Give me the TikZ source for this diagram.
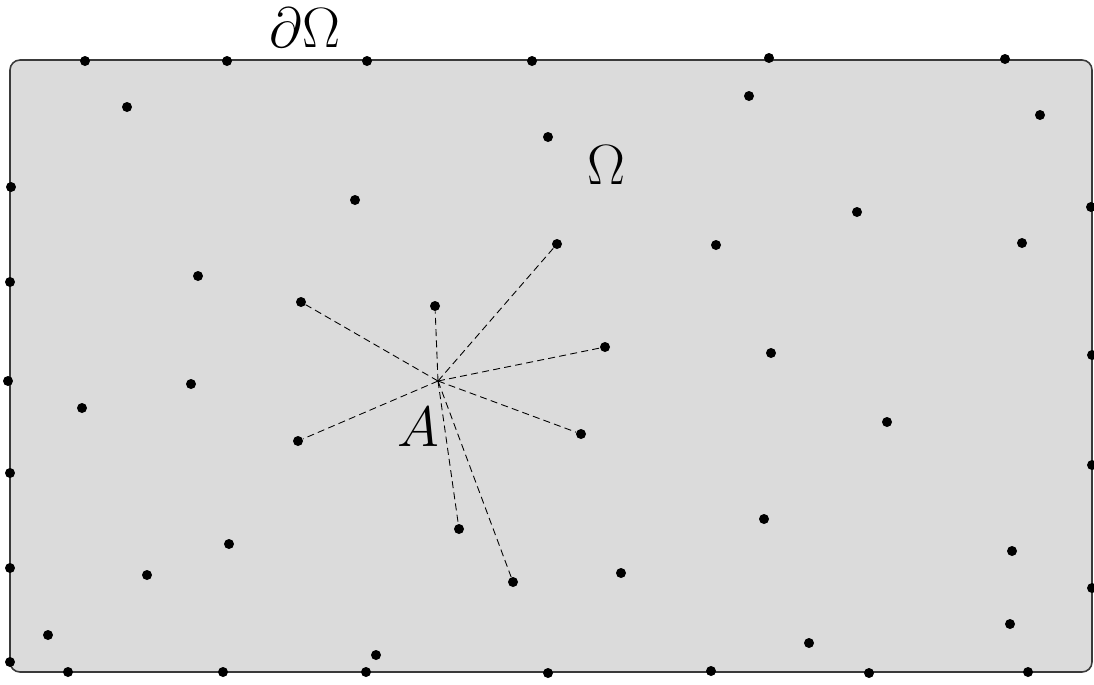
\documentclass[tikz,border=0pt]{standalone}
\usepackage{amsmath}
\usepackage{amssymb}
\usepackage{xcolor}
\usepackage{tikz}
\usetikzlibrary{positioning}
\definecolor{domfill}{HTML}{DBDBDB}
\definecolor{domedge}{HTML}{3A3A3A}

\tikzset{
  dot/.style={circle, fill=black, inner sep=0pt, minimum size=0.2cm},
  ray/.style={line width=0.5pt, dash pattern=on 4pt off 2.4pt},
  lbl/.style={font=\fontsize{25}{25}\selectfont, inner sep=0pt, scale=1.3}
}

\begin{document}
\begin{tikzpicture}[x=0.02cm, y=-0.02cm]
  \useasboundingbox (0,0) rectangle (1094,684);

  % the domain
  \path[fill=domfill, draw=domedge, line width=0.9pt, rounded corners=0.2cm]
    (10,60) rectangle (1092,672);

  % points on the boundary
  \foreach \n/\x/\y in {b1/85/61, b2/227/61, b3/367/61, b4/532/61, b5/769/58, b6/1005/59,
      b7/11/187, b8/10/282, b9/8/381, b10/10/473, b11/10/568, b12/10/662,
      b13/68/672, b14/223/672, b15/366/672, b16/548/673, b17/711/671, b18/869/673, b19/1028/672,
      b20/1091/207, b21/1092/355, b22/1092/465, b23/1092/588}
    \node[dot] (\n) at (\x,\y) {};

  % points inside
  \foreach \n/\x/\y in {q1/127/107, q2/749/96, q3/1040/115, q4/548/137, q5/355/200,
      q6/857/212, q7/716/245, q8/1022/243, q9/557/244, q10/198/276, q11/301/302,
      q12/435/306, q13/605/347, q14/771/353, q15/191/384, q16/82/408, q17/581/434,
      q18/298/441, q19/887/422, q20/764/519, q21/459/529, q22/229/544, q23/147/575,
      q24/513/582, q25/621/573, q26/1012/551, q27/48/635, q28/376/655, q29/809/643,
      q30/1010/624}
    \node[dot] (\n) at (\x,\y) {};

  % neighbours of A
  \coordinate (A) at (438,381);
  \foreach \n in {q11,q12,q9,q13,q17,q21,q24,q18}
    \draw[ray] (A) -- (\n);

  \node[lbl] (Alab) at (418,427) {$A$};
  \node[lbl] (omega) at (606,165) {$\Omega$};
  \node[lbl] (bdry) at (305,28) {$\partial\Omega$};
\end{tikzpicture}
\end{document}
